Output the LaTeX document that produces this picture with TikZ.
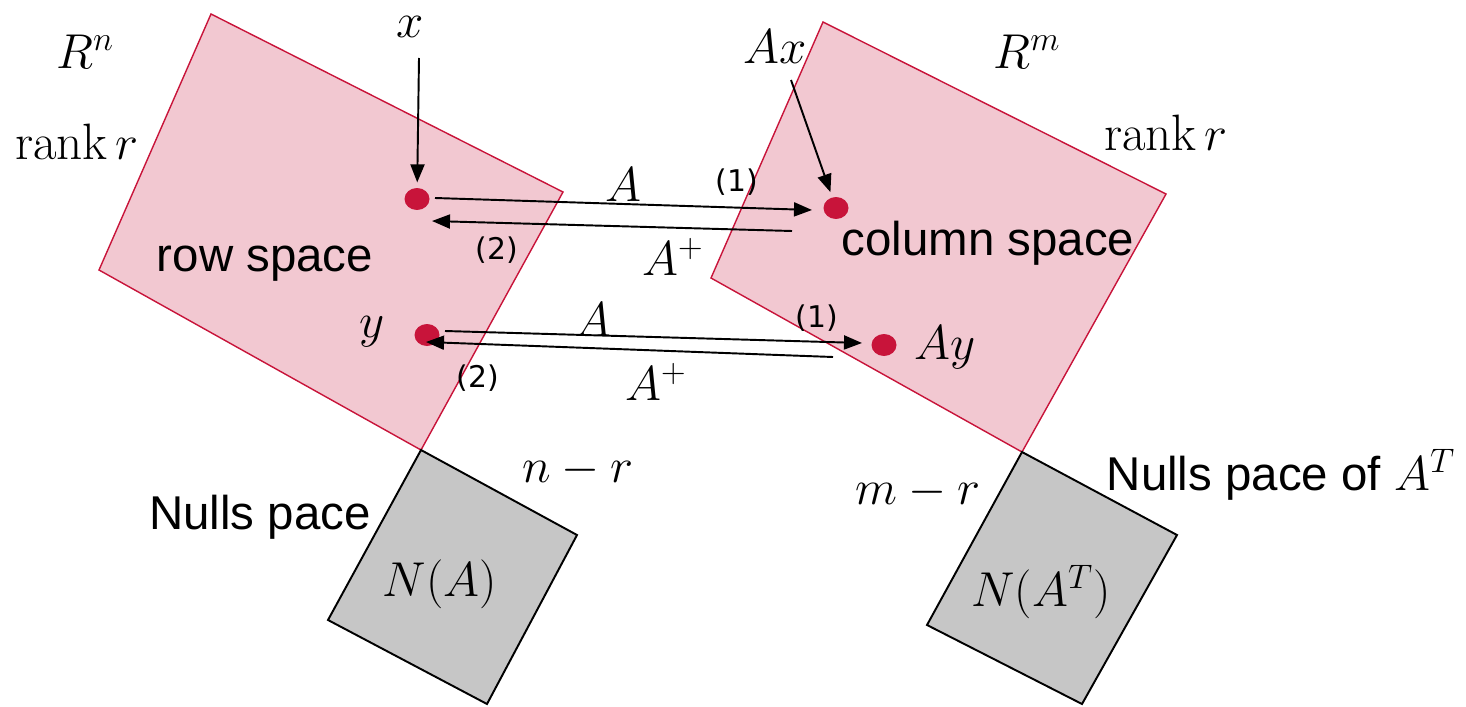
\documentclass[tikz,border=0pt]{standalone}
\usepackage{fontspec}
\usepackage{graphicx}
\newfontfamily\labelsans{Liberation Sans}
\newfontfamily\tagsans{DejaVu Sans}
\usetikzlibrary{arrows.meta,shapes.geometric}
\definecolor{spacefill}{HTML}{F2C8D1}
\definecolor{spaceline}{HTML}{C8143A}
\definecolor{nullfill}{HTML}{C6C6C6}
\definecolor{dotred}{HTML}{C8143A}
\newcommand{\mlab}[1]{\scalebox{1.12}{$#1$}}

\begin{document}
\begin{tikzpicture}[x=0.02cm, y=-0.02cm,
  pinkspace/.style={draw=spaceline, fill=spacefill, line width=0.8pt},
  nullspace/.style={draw=black, fill=nullfill, line width=1.1pt},
  vec/.style={ellipse, fill=dotred, inner sep=0, minimum width=5mm, minimum height=4.4mm},
  map/.style={-{Triangle[length=3.6mm,width=2.8mm]}, line width=1.1pt},
  mth/.style={font=\fontsize{26}{30}\selectfont, inner sep=0},
  txt/.style={font=\labelsans\fontsize{27}{32}\selectfont, inner sep=0},
  tag/.style={font=\tagsans\fontsize{17}{20}\selectfont, inner sep=0}]
\useasboundingbox (0,0) rectangle (1466,706);
% the four subspaces
\draw[pinkspace] (211,14) -- (563,192) -- (421,450) -- (99,270) -- cycle;
\draw[pinkspace] (823,22) -- (1166,194) -- (1022,452) -- (711,278) -- cycle;
\draw[nullspace] (421,450) -- (577,535) -- (487,704) -- (328,620) -- cycle;
\draw[nullspace] (1022,452) -- (1177,535) -- (1082,704) -- (927,625) -- cycle;
% vectors
\node[vec] (xdot) at (417,199) {};
\node[vec] (axdot) at (836,208) {};
\node[vec] (ydot) at (427,335) {};
\node[vec] (aydot) at (884,345) {};
% labels
\node[mth] (rn) at (85,52) {\mlab{R^n}};
\node[mth] (rankl) at (77,142) {\mlab{\mathrm{rank}\,r}};
\node[mth] (rm) at (1027,52) {\mlab{R^m}};
\node[mth] (rankr) at (1166,133) {\mlab{\mathrm{rank}\,r}};
\node[mth] (xlab) at (410,27) {\mlab{x}};
\node[mth] (axlab) at (775,47) {\mlab{Ax}};
\node[mth] (ylab) at (372,332) {\mlab{y}};
\node[mth] (aylab) at (945,348) {\mlab{Ay}};
\node[txt] (row) at (265,264) {row space};
\node[txt] (col) at (988,243) {column space};
\node[txt] (nulll) at (260,517) {Nulls pace};
\node[txt] (nullr) at (1281,475) {Nulls pace of \mlab{A^T}};
\node[mth] (nr) at (578,470) {\mlab{n-r}};
\node[mth] (mr) at (918,492) {\mlab{m-r}};
\node[mth] (na) at (440,584) {\mlab{N(A)}};
\node[mth] (nat) at (1041,592) {\mlab{N(A^T)}};
% maps between the spaces
\coordinate (xtail) at (419,58);
\coordinate (axtail) at (791,80);
\draw[map, shorten >=3pt] (xtail) -- (xdot);
\draw[map, shorten >=3pt] (axtail) -- (axdot);
\coordinate (xfrom) at (435,198);
\coordinate (axto) at (812,210);
\coordinate (axfrom) at (792,231);
\coordinate (xto) at (432,221);
\draw[map] (xfrom) -- (axto);
\draw[map] (axfrom) -- (xto);
\coordinate (yfrom) at (445,331);
\coordinate (ayto) at (862,343);
\coordinate (ayfrom) at (833,357);
\coordinate (yto) at (426,342);
\draw[map] (yfrom) -- (ayto);
\draw[map] (ayfrom) -- (yto);
\node[mth] (a1) at (623,185) {\mlab{A}};
\node[tag] (t1) at (737,182) {(1)};
\node[tag] (t2) at (497,250) {(2)};
\node[mth] (ap1) at (673,257) {\mlab{A^+}};
\node[mth] (a2) at (593,320) {\mlab{A}};
\node[tag] (t3) at (817,318) {(1)};
\node[tag] (t4) at (478,378) {(2)};
\node[mth] (ap2) at (656,382) {\mlab{A^+}};
\end{tikzpicture}
\end{document}
